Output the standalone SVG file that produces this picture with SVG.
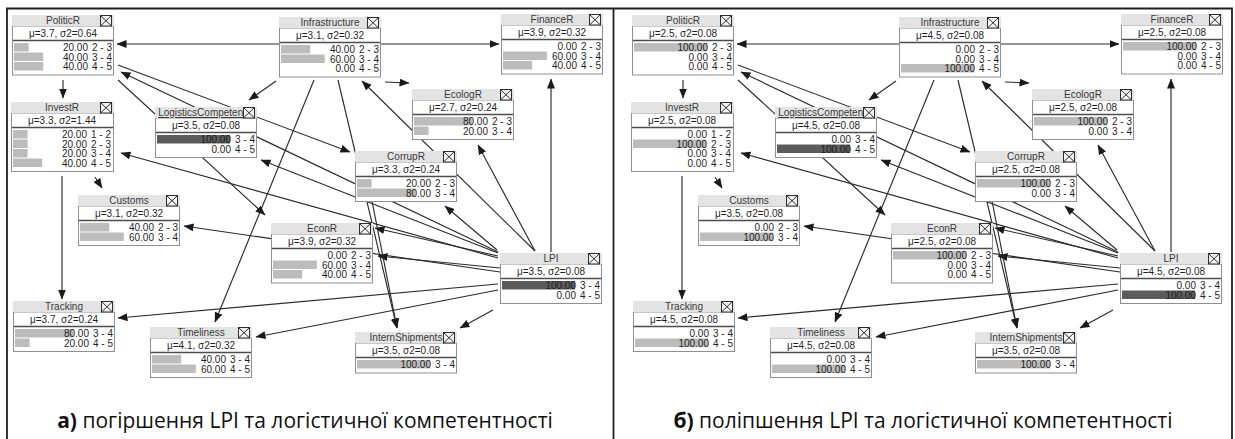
<svg xmlns="http://www.w3.org/2000/svg" xmlns:xlink="http://www.w3.org/1999/xlink" width="1235" height="439" viewBox="0 0 1235 439">
  <style>
    .frame { fill: none; stroke: #1e1e1e; stroke-width: 1.8; }
    .links line { stroke: #2b2b2b; stroke-width: 1.15; marker-end: url(#arr); }
    .tb { fill: #e3e3e3; }
    .bd { fill: #ffffff; stroke: #8f8f8f; stroke-width: 1; }
    .sep { stroke: #4d4d4d; stroke-width: 1.6; }
    .bar { fill: #bcbcbc; }
    .ev { fill: #5c5c5c; }
    .node text { font-family: "Liberation Sans", Arial, sans-serif; font-size: 10px; fill: #1f1f1f; }
    .node .ttl { text-anchor: middle; fill: #3a3a3a; }
    .node .ul { text-decoration: underline; }
    .node .mu { text-anchor: middle; }
    .node .v { text-anchor: end; }
    .cap { font-family: "Open Sans", "Noto Sans", "DejaVu Sans", sans-serif; font-size: 21px; fill: #111; }
    .cap .b { font-weight: bold; }
  </style>
  <defs>
    <marker id="arr" markerUnits="userSpaceOnUse" markerWidth="10" markerHeight="8" refX="9.5" refY="4" orient="auto">
      <path d="M0,0 L10,4 L0,8 z" fill="#1a1a1a"/>
    </marker>
    <g id="xbox">
      <rect x="0.5" y="0.5" width="11" height="10.5" fill="#f4f4f4" stroke="#2e2e2e" stroke-width="1"/>
      <path d="M0.5,0.5 L11.5,11 M11.5,0.5 L0.5,11" stroke="#2e2e2e" stroke-width="1"/>
    </g>
  </defs>

  <rect width="1235" height="439" fill="#ffffff"/>

  <!-- panel frame and divider -->
  <path class="frame" d="M7,440 V8.5 H1232 V440 M613.5,8.5 V440"/>

  <!-- links of the left network; the right network reuses the same layout -->
  <g id="links-a" class="links">
    <line x1="279" y1="44" x2="117" y2="44"/>
    <line x1="381" y1="44" x2="499" y2="44"/>
    <line x1="63" y1="80" x2="63" y2="98"/>
    <line x1="95" y1="177" x2="102" y2="188"/>
    <line x1="62" y1="176" x2="62" y2="299"/>
    <line x1="276" y1="81" x2="249" y2="100"/>
    <line x1="385" y1="82" x2="409" y2="83"/>
    <line x1="535" y1="251" x2="362" y2="81"/>
    <line x1="314" y1="80" x2="215" y2="322"/>
    <line x1="338" y1="80" x2="397" y2="328"/>
    <line x1="118" y1="65" x2="350" y2="152"/>
    <line x1="498" y1="252" x2="121" y2="72"/>
    <line x1="118" y1="80" x2="265" y2="215"/>
    <line x1="498" y1="253" x2="261" y2="160"/>
    <line x1="498" y1="258" x2="121" y2="153"/>
    <line x1="498" y1="256" x2="375" y2="228"/>
    <line x1="500" y1="272" x2="184" y2="226"/>
    <line x1="500" y1="268" x2="378" y2="256"/>
    <line x1="498" y1="284" x2="118" y2="318"/>
    <line x1="498" y1="290" x2="256" y2="337"/>
    <line x1="493" y1="310" x2="460" y2="328"/>
    <line x1="551" y1="252" x2="551" y2="79"/>
    <line x1="535" y1="251" x2="478" y2="145"/>
    <line x1="497" y1="250" x2="445" y2="206"/>
    <line x1="372" y1="201" x2="397" y2="328"/>
  </g>
  <use id="links-b" xlink:href="#links-a" href="#links-a" transform="translate(620,0)"/>

  <!-- ===== left network ===== -->
  <g id="a-PoliticR" class="node" transform="translate(12,15)">
    <rect class="bd" x="0.5" y="11" width="101" height="49"/>
    <rect class="tb" width="102" height="11"/>
    <text class="ttl" x="51" y="9">PoliticR</text>
    <use href="#xbox" x="88"/>
    <text class="mu" x="51" y="21.5">μ=3.7, σ2=0.64</text>
    <line class="sep" x1="1" y1="25.5" x2="101" y2="25.5"/>
    <rect class="bar" x="2" y="28" width="14.6" height="8.5"/>
    <rect class="bar" x="2" y="37.5" width="29.2" height="8.5"/>
    <rect class="bar" x="2" y="47" width="29.2" height="8.5"/>
    <text class="v" x="76" y="36">20.00</text><text class="v" x="100" y="36">2 - 3</text>
    <text class="v" x="76" y="45.5">40.00</text><text class="v" x="100" y="45.5">3 - 4</text>
    <text class="v" x="76" y="55">40.00</text><text class="v" x="100" y="55">4 - 5</text>
  </g>

  <g id="a-Infrastructure" class="node" transform="translate(279,17)">
    <rect class="bd" x="0.5" y="11" width="101" height="49"/>
    <rect class="tb" width="102" height="11"/>
    <text class="ttl" x="51" y="9">Infrastructure</text>
    <use href="#xbox" x="88"/>
    <text class="mu" x="51" y="21.5">μ=3.1, σ2=0.32</text>
    <line class="sep" x1="1" y1="25.5" x2="101" y2="25.5"/>
    <rect class="bar" x="2" y="28" width="29.2" height="8.5"/>
    <rect class="bar" x="2" y="37.5" width="43.8" height="8.5"/>
    <text class="v" x="76" y="36">40.00</text><text class="v" x="100" y="36">2 - 3</text>
    <text class="v" x="76" y="45.5">60.00</text><text class="v" x="100" y="45.5">3 - 4</text>
    <text class="v" x="76" y="55">0.00</text><text class="v" x="100" y="55">4 - 5</text>
  </g>

  <g id="a-FinanceR" class="node" transform="translate(501,14)">
    <rect class="bd" x="0.5" y="11" width="101" height="49"/>
    <rect class="tb" width="102" height="11"/>
    <text class="ttl" x="51" y="9">FinanceR</text>
    <use href="#xbox" x="88"/>
    <text class="mu" x="51" y="21.5">μ=3.9, σ2=0.32</text>
    <line class="sep" x1="1" y1="25.5" x2="101" y2="25.5"/>
    <rect class="bar" x="2" y="37.5" width="43.8" height="8.5"/>
    <rect class="bar" x="2" y="47" width="29.2" height="8.5"/>
    <text class="v" x="76" y="36">0.00</text><text class="v" x="100" y="36">2 - 3</text>
    <text class="v" x="76" y="45.5">60.00</text><text class="v" x="100" y="45.5">3 - 4</text>
    <text class="v" x="76" y="55">40.00</text><text class="v" x="100" y="55">4 - 5</text>
  </g>

  <g id="a-InvestR" class="node" transform="translate(11,102)">
    <rect class="bd" x="0.5" y="11" width="102" height="58.5"/>
    <rect class="tb" width="103" height="11"/>
    <text class="ttl" x="51" y="9">InvestR</text>
    <use href="#xbox" x="89"/>
    <text class="mu" x="51" y="21.5">μ=3.3, σ2=1.44</text>
    <line class="sep" x1="1" y1="25.5" x2="102" y2="25.5"/>
    <rect class="bar" x="2" y="28" width="14.6" height="8.5"/>
    <rect class="bar" x="2" y="37.5" width="14.6" height="8.5"/>
    <rect class="bar" x="2" y="47" width="14.6" height="8.5"/>
    <rect class="bar" x="2" y="56.5" width="29.2" height="8.5"/>
    <text class="v" x="76" y="36">20.00</text><text class="v" x="100" y="36">1 - 2</text>
    <text class="v" x="76" y="45.5">20.00</text><text class="v" x="100" y="45.5">2 - 3</text>
    <text class="v" x="76" y="55">20.00</text><text class="v" x="100" y="55">3 - 4</text>
    <text class="v" x="76" y="64.5">40.00</text><text class="v" x="100" y="64.5">4 - 5</text>
  </g>

  <g id="a-LogisticsCompetence" class="node" transform="translate(155,107)">
    <rect class="bd" x="0.5" y="11" width="101" height="39.5"/>
    <rect class="tb" width="102" height="11"/>
    <text class="ttl ul" x="51" y="9">LogisticsCompetence</text>
    <use href="#xbox" x="88"/>
    <text class="mu" x="51" y="21.5">μ=3.5, σ2=0.08</text>
    <line class="sep" x1="1" y1="25.5" x2="101" y2="25.5"/>
    <rect class="ev" x="2" y="28" width="73" height="8.5"/>
    <text class="v" x="76" y="36">100.00</text><text class="v" x="100" y="36">3 - 4</text>
    <text class="v" x="76" y="45.5">0.00</text><text class="v" x="100" y="45.5">4 - 5</text>
  </g>

  <g id="a-EcologR" class="node" transform="translate(412,89)">
    <rect class="bd" x="0.5" y="11" width="101" height="39.5"/>
    <rect class="tb" width="102" height="11"/>
    <text class="ttl" x="51" y="9">EcologR</text>
    <use href="#xbox" x="88"/>
    <text class="mu" x="51" y="21.5">μ=2.7, σ2=0.24</text>
    <line class="sep" x1="1" y1="25.5" x2="101" y2="25.5"/>
    <rect class="bar" x="2" y="28" width="58.4" height="8.5"/>
    <rect class="bar" x="2" y="37.5" width="14.6" height="8.5"/>
    <text class="v" x="76" y="36">80.00</text><text class="v" x="100" y="36">2 - 3</text>
    <text class="v" x="76" y="45.5">20.00</text><text class="v" x="100" y="45.5">3 - 4</text>
  </g>

  <g id="a-CorrupR" class="node" transform="translate(355,151)">
    <rect class="bd" x="0.5" y="11" width="101" height="39.5"/>
    <rect class="tb" width="102" height="11"/>
    <text class="ttl" x="51" y="9">CorrupR</text>
    <use href="#xbox" x="88"/>
    <text class="mu" x="51" y="21.5">μ=3.3, σ2=0.24</text>
    <line class="sep" x1="1" y1="25.5" x2="101" y2="25.5"/>
    <rect class="bar" x="2" y="28" width="14.6" height="8.5"/>
    <rect class="bar" x="2" y="37.5" width="58.4" height="8.5"/>
    <text class="v" x="76" y="36">20.00</text><text class="v" x="100" y="36">2 - 3</text>
    <text class="v" x="76" y="45.5">80.00</text><text class="v" x="100" y="45.5">3 - 4</text>
  </g>

  <g id="a-Customs" class="node" transform="translate(78,195)">
    <rect class="bd" x="0.5" y="11" width="101" height="39.5"/>
    <rect class="tb" width="102" height="11"/>
    <text class="ttl" x="51" y="9">Customs</text>
    <use href="#xbox" x="88"/>
    <text class="mu" x="51" y="21.5">μ=3.1, σ2=0.32</text>
    <line class="sep" x1="1" y1="25.5" x2="101" y2="25.5"/>
    <rect class="bar" x="2" y="28" width="29.2" height="8.5"/>
    <rect class="bar" x="2" y="37.5" width="43.8" height="8.5"/>
    <text class="v" x="76" y="36">40.00</text><text class="v" x="100" y="36">2 - 3</text>
    <text class="v" x="76" y="45.5">60.00</text><text class="v" x="100" y="45.5">3 - 4</text>
  </g>

  <g id="a-EconR" class="node" transform="translate(271,223)">
    <rect class="bd" x="0.5" y="11" width="101" height="49"/>
    <rect class="tb" width="102" height="11"/>
    <text class="ttl" x="51" y="9">EconR</text>
    <use href="#xbox" x="88"/>
    <text class="mu" x="51" y="21.5">μ=3.9, σ2=0.32</text>
    <line class="sep" x1="1" y1="25.5" x2="101" y2="25.5"/>
    <rect class="bar" x="2" y="37.5" width="43.8" height="8.5"/>
    <rect class="bar" x="2" y="47" width="29.2" height="8.5"/>
    <text class="v" x="76" y="36">0.00</text><text class="v" x="100" y="36">2 - 3</text>
    <text class="v" x="76" y="45.5">60.00</text><text class="v" x="100" y="45.5">3 - 4</text>
    <text class="v" x="76" y="55">40.00</text><text class="v" x="100" y="55">4 - 5</text>
  </g>

  <g id="a-LPI" class="node" transform="translate(500,253)">
    <rect class="bd" x="0.5" y="11" width="101" height="39.5"/>
    <rect class="tb" width="102" height="11"/>
    <text class="ttl" x="51" y="9">LPI</text>
    <use href="#xbox" x="88"/>
    <text class="mu" x="51" y="21.5">μ=3.5, σ2=0.08</text>
    <line class="sep" x1="1" y1="25.5" x2="101" y2="25.5"/>
    <rect class="ev" x="2" y="28" width="73" height="8.5"/>
    <text class="v" x="76" y="36">100.00</text><text class="v" x="100" y="36">3 - 4</text>
    <text class="v" x="76" y="45.5">0.00</text><text class="v" x="100" y="45.5">4 - 5</text>
  </g>

  <g id="a-Tracking" class="node" transform="translate(13,301)">
    <rect class="bd" x="0.5" y="11" width="101" height="39.5"/>
    <rect class="tb" width="102" height="11"/>
    <text class="ttl" x="51" y="9">Tracking</text>
    <use href="#xbox" x="88"/>
    <text class="mu" x="51" y="21.5">μ=3.7, σ2=0.24</text>
    <line class="sep" x1="1" y1="25.5" x2="101" y2="25.5"/>
    <rect class="bar" x="2" y="28" width="58.4" height="8.5"/>
    <rect class="bar" x="2" y="37.5" width="14.6" height="8.5"/>
    <text class="v" x="76" y="36">80.00</text><text class="v" x="100" y="36">3 - 4</text>
    <text class="v" x="76" y="45.5">20.00</text><text class="v" x="100" y="45.5">4 - 5</text>
  </g>

  <g id="a-Timeliness" class="node" transform="translate(150,327)">
    <rect class="bd" x="0.5" y="11" width="101" height="39.5"/>
    <rect class="tb" width="102" height="11"/>
    <text class="ttl" x="51" y="9">Timeliness</text>
    <use href="#xbox" x="88"/>
    <text class="mu" x="51" y="21.5">μ=4.1, σ2=0.32</text>
    <line class="sep" x1="1" y1="25.5" x2="101" y2="25.5"/>
    <rect class="bar" x="2" y="28" width="29.2" height="8.5"/>
    <rect class="bar" x="2" y="37.5" width="43.8" height="8.5"/>
    <text class="v" x="76" y="36">40.00</text><text class="v" x="100" y="36">3 - 4</text>
    <text class="v" x="76" y="45.5">60.00</text><text class="v" x="100" y="45.5">4 - 5</text>
  </g>

  <g id="a-InternShipments" class="node" transform="translate(355,332)">
    <rect class="bd" x="0.5" y="11" width="101" height="30"/>
    <rect class="tb" width="102" height="11"/>
    <text class="ttl" x="51" y="9">InternShipments</text>
    <use href="#xbox" x="88"/>
    <text class="mu" x="51" y="21.5">μ=3.5, σ2=0.08</text>
    <line class="sep" x1="1" y1="25.5" x2="101" y2="25.5"/>
    <rect class="bar" x="2" y="28" width="73" height="8.5"/>
    <text class="v" x="76" y="36">100.00</text><text class="v" x="100" y="36">3 - 4</text>
  </g>

  <!-- ===== right network ===== -->
  <g id="b-PoliticR" class="node" transform="translate(632,15)">
    <rect class="bd" x="0.5" y="11" width="101" height="49"/>
    <rect class="tb" width="102" height="11"/>
    <text class="ttl" x="51" y="9">PoliticR</text>
    <use href="#xbox" x="88"/>
    <text class="mu" x="51" y="21.5">μ=2.5, σ2=0.08</text>
    <line class="sep" x1="1" y1="25.5" x2="101" y2="25.5"/>
    <rect class="bar" x="2" y="28" width="73" height="8.5"/>
    <text class="v" x="76" y="36">100.00</text><text class="v" x="100" y="36">2 - 3</text>
    <text class="v" x="76" y="45.5">0.00</text><text class="v" x="100" y="45.5">3 - 4</text>
    <text class="v" x="76" y="55">0.00</text><text class="v" x="100" y="55">4 - 5</text>
  </g>

  <g id="b-Infrastructure" class="node" transform="translate(899,17)">
    <rect class="bd" x="0.5" y="11" width="101" height="49"/>
    <rect class="tb" width="102" height="11"/>
    <text class="ttl" x="51" y="9">Infrastructure</text>
    <use href="#xbox" x="88"/>
    <text class="mu" x="51" y="21.5">μ=4.5, σ2=0.08</text>
    <line class="sep" x1="1" y1="25.5" x2="101" y2="25.5"/>
    <rect class="bar" x="2" y="47" width="73" height="8.5"/>
    <text class="v" x="76" y="36">0.00</text><text class="v" x="100" y="36">2 - 3</text>
    <text class="v" x="76" y="45.5">0.00</text><text class="v" x="100" y="45.5">3 - 4</text>
    <text class="v" x="76" y="55">100.00</text><text class="v" x="100" y="55">4 - 5</text>
  </g>

  <g id="b-FinanceR" class="node" transform="translate(1121,14)">
    <rect class="bd" x="0.5" y="11" width="101" height="49"/>
    <rect class="tb" width="102" height="11"/>
    <text class="ttl" x="51" y="9">FinanceR</text>
    <use href="#xbox" x="88"/>
    <text class="mu" x="51" y="21.5">μ=2.5, σ2=0.08</text>
    <line class="sep" x1="1" y1="25.5" x2="101" y2="25.5"/>
    <rect class="bar" x="2" y="28" width="73" height="8.5"/>
    <text class="v" x="76" y="36">100.00</text><text class="v" x="100" y="36">2 - 3</text>
    <text class="v" x="76" y="45.5">0.00</text><text class="v" x="100" y="45.5">3 - 4</text>
    <text class="v" x="76" y="55">0.00</text><text class="v" x="100" y="55">4 - 5</text>
  </g>

  <g id="b-InvestR" class="node" transform="translate(631,102)">
    <rect class="bd" x="0.5" y="11" width="102" height="58.5"/>
    <rect class="tb" width="103" height="11"/>
    <text class="ttl" x="51" y="9">InvestR</text>
    <use href="#xbox" x="89"/>
    <text class="mu" x="51" y="21.5">μ=2.5, σ2=0.08</text>
    <line class="sep" x1="1" y1="25.5" x2="102" y2="25.5"/>
    <rect class="bar" x="2" y="37.5" width="73" height="8.5"/>
    <text class="v" x="76" y="36">0.00</text><text class="v" x="100" y="36">1 - 2</text>
    <text class="v" x="76" y="45.5">100.00</text><text class="v" x="100" y="45.5">2 - 3</text>
    <text class="v" x="76" y="55">0.00</text><text class="v" x="100" y="55">3 - 4</text>
    <text class="v" x="76" y="64.5">0.00</text><text class="v" x="100" y="64.5">4 - 5</text>
  </g>

  <g id="b-LogisticsCompetence" class="node" transform="translate(775,107)">
    <rect class="bd" x="0.5" y="11" width="101" height="39.5"/>
    <rect class="tb" width="102" height="11"/>
    <text class="ttl ul" x="51" y="9">LogisticsCompetence</text>
    <use href="#xbox" x="88"/>
    <text class="mu" x="51" y="21.5">μ=4.5, σ2=0.08</text>
    <line class="sep" x1="1" y1="25.5" x2="101" y2="25.5"/>
    <rect class="ev" x="2" y="37.5" width="73" height="8.5"/>
    <text class="v" x="76" y="36">0.00</text><text class="v" x="100" y="36">3 - 4</text>
    <text class="v" x="76" y="45.5">100.00</text><text class="v" x="100" y="45.5">4 - 5</text>
  </g>

  <g id="b-EcologR" class="node" transform="translate(1032,89)">
    <rect class="bd" x="0.5" y="11" width="101" height="39.5"/>
    <rect class="tb" width="102" height="11"/>
    <text class="ttl" x="51" y="9">EcologR</text>
    <use href="#xbox" x="88"/>
    <text class="mu" x="51" y="21.5">μ=2.5, σ2=0.08</text>
    <line class="sep" x1="1" y1="25.5" x2="101" y2="25.5"/>
    <rect class="bar" x="2" y="28" width="73" height="8.5"/>
    <text class="v" x="76" y="36">100.00</text><text class="v" x="100" y="36">2 - 3</text>
    <text class="v" x="76" y="45.5">0.00</text><text class="v" x="100" y="45.5">3 - 4</text>
  </g>

  <g id="b-CorrupR" class="node" transform="translate(975,151)">
    <rect class="bd" x="0.5" y="11" width="101" height="39.5"/>
    <rect class="tb" width="102" height="11"/>
    <text class="ttl" x="51" y="9">CorrupR</text>
    <use href="#xbox" x="88"/>
    <text class="mu" x="51" y="21.5">μ=2.5, σ2=0.08</text>
    <line class="sep" x1="1" y1="25.5" x2="101" y2="25.5"/>
    <rect class="bar" x="2" y="28" width="73" height="8.5"/>
    <text class="v" x="76" y="36">100.00</text><text class="v" x="100" y="36">2 - 3</text>
    <text class="v" x="76" y="45.5">0.00</text><text class="v" x="100" y="45.5">3 - 4</text>
  </g>

  <g id="b-Customs" class="node" transform="translate(698,195)">
    <rect class="bd" x="0.5" y="11" width="101" height="39.5"/>
    <rect class="tb" width="102" height="11"/>
    <text class="ttl" x="51" y="9">Customs</text>
    <use href="#xbox" x="88"/>
    <text class="mu" x="51" y="21.5">μ=3.5, σ2=0.08</text>
    <line class="sep" x1="1" y1="25.5" x2="101" y2="25.5"/>
    <rect class="bar" x="2" y="37.5" width="73" height="8.5"/>
    <text class="v" x="76" y="36">0.00</text><text class="v" x="100" y="36">2 - 3</text>
    <text class="v" x="76" y="45.5">100.00</text><text class="v" x="100" y="45.5">3 - 4</text>
  </g>

  <g id="b-EconR" class="node" transform="translate(891,223)">
    <rect class="bd" x="0.5" y="11" width="101" height="49"/>
    <rect class="tb" width="102" height="11"/>
    <text class="ttl" x="51" y="9">EconR</text>
    <use href="#xbox" x="88"/>
    <text class="mu" x="51" y="21.5">μ=2.5, σ2=0.08</text>
    <line class="sep" x1="1" y1="25.5" x2="101" y2="25.5"/>
    <rect class="bar" x="2" y="28" width="73" height="8.5"/>
    <text class="v" x="76" y="36">100.00</text><text class="v" x="100" y="36">2 - 3</text>
    <text class="v" x="76" y="45.5">0.00</text><text class="v" x="100" y="45.5">3 - 4</text>
    <text class="v" x="76" y="55">0.00</text><text class="v" x="100" y="55">4 - 5</text>
  </g>

  <g id="b-LPI" class="node" transform="translate(1120,253)">
    <rect class="bd" x="0.5" y="11" width="101" height="39.5"/>
    <rect class="tb" width="102" height="11"/>
    <text class="ttl" x="51" y="9">LPI</text>
    <use href="#xbox" x="88"/>
    <text class="mu" x="51" y="21.5">μ=4.5, σ2=0.08</text>
    <line class="sep" x1="1" y1="25.5" x2="101" y2="25.5"/>
    <rect class="ev" x="2" y="37.5" width="73" height="8.5"/>
    <text class="v" x="76" y="36">0.00</text><text class="v" x="100" y="36">3 - 4</text>
    <text class="v" x="76" y="45.5">100.00</text><text class="v" x="100" y="45.5">4 - 5</text>
  </g>

  <g id="b-Tracking" class="node" transform="translate(633,301)">
    <rect class="bd" x="0.5" y="11" width="101" height="39.5"/>
    <rect class="tb" width="102" height="11"/>
    <text class="ttl" x="51" y="9">Tracking</text>
    <use href="#xbox" x="88"/>
    <text class="mu" x="51" y="21.5">μ=4.5, σ2=0.08</text>
    <line class="sep" x1="1" y1="25.5" x2="101" y2="25.5"/>
    <rect class="bar" x="2" y="37.5" width="73" height="8.5"/>
    <text class="v" x="76" y="36">0.00</text><text class="v" x="100" y="36">3 - 4</text>
    <text class="v" x="76" y="45.5">100.00</text><text class="v" x="100" y="45.5">4 - 5</text>
  </g>

  <g id="b-Timeliness" class="node" transform="translate(770,327)">
    <rect class="bd" x="0.5" y="11" width="101" height="39.5"/>
    <rect class="tb" width="102" height="11"/>
    <text class="ttl" x="51" y="9">Timeliness</text>
    <use href="#xbox" x="88"/>
    <text class="mu" x="51" y="21.5">μ=4.5, σ2=0.08</text>
    <line class="sep" x1="1" y1="25.5" x2="101" y2="25.5"/>
    <rect class="bar" x="2" y="37.5" width="73" height="8.5"/>
    <text class="v" x="76" y="36">0.00</text><text class="v" x="100" y="36">3 - 4</text>
    <text class="v" x="76" y="45.5">100.00</text><text class="v" x="100" y="45.5">4 - 5</text>
  </g>

  <g id="b-InternShipments" class="node" transform="translate(975,332)">
    <rect class="bd" x="0.5" y="11" width="101" height="30"/>
    <rect class="tb" width="102" height="11"/>
    <text class="ttl" x="51" y="9">InternShipments</text>
    <use href="#xbox" x="88"/>
    <text class="mu" x="51" y="21.5">μ=3.5, σ2=0.08</text>
    <line class="sep" x1="1" y1="25.5" x2="101" y2="25.5"/>
    <rect class="bar" x="2" y="28" width="73" height="8.5"/>
    <text class="v" x="76" y="36">100.00</text><text class="v" x="100" y="36">3 - 4</text>
  </g>

  <!-- panel captions -->
  <text class="cap" x="305" y="428" text-anchor="middle"><tspan class="b">а)</tspan> погіршення LPI та логістичної компетентності</text>
  <text class="cap" x="923" y="428" text-anchor="middle"><tspan class="b">б)</tspan> поліпшення LPI та логістичної компетентності</text>
</svg>
